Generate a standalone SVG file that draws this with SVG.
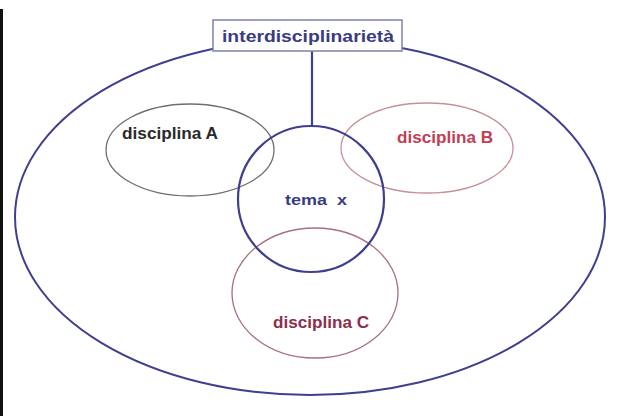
<svg xmlns="http://www.w3.org/2000/svg" width="625" height="416" viewBox="0 0 625 416">
<style>
text{font-family:"Liberation Sans",Arial,sans-serif;font-weight:bold;}
.outer{fill:none;stroke:#3e3f8e;stroke-width:2;}
.blue{fill:none;stroke:#3e3f8e;stroke-width:2.2;}
</style>
<rect width="625" height="416" fill="#ffffff"/>
<line x1="1.5" y1="9" x2="1.5" y2="416" stroke="#111" stroke-width="3"/>
<g id="universe">
<ellipse class="outer" cx="310" cy="217" rx="295" ry="178"/>
</g>
<g id="connectors">
<line x1="312" y1="51" x2="312" y2="126" stroke="#3e3f8e" stroke-width="2.2"/>
</g>
<g id="discA">
<ellipse cx="190" cy="150" rx="84" ry="46" fill="none" stroke="#6e6e6e" stroke-width="1.3"/>
<text x="170" y="139" font-size="16" fill="#2a2a2a" text-anchor="middle" textLength="96" lengthAdjust="spacingAndGlyphs">disciplina A</text>
</g>
<g id="discB">
<ellipse cx="427" cy="148" rx="86" ry="45" fill="none" stroke="#c79095" stroke-width="1.3"/>
<text x="445" y="143" font-size="16" fill="#c23d55" text-anchor="middle" textLength="96" lengthAdjust="spacingAndGlyphs">disciplina B</text>
</g>
<g id="discC">
<ellipse cx="315" cy="293" rx="83" ry="65" fill="none" stroke="#a8707e" stroke-width="1.3"/>
<text x="321" y="328" font-size="16" fill="#8c2e4e" text-anchor="middle" textLength="96" lengthAdjust="spacingAndGlyphs">disciplina C</text>
</g>
<g id="tema">
<circle class="blue" cx="311" cy="199" r="73"/>
<text x="316" y="205" font-size="15" fill="#3a3c82" text-anchor="middle" textLength="62" lengthAdjust="spacingAndGlyphs" xml:space="preserve">tema  x</text>
</g>
<g id="interdisciplinarieta">
<rect x="213" y="20" width="189" height="31" fill="#ffffff" stroke="#7d82a6" stroke-width="1.5"/>
<text x="308" y="42" font-size="17" fill="#3a3c82" text-anchor="middle" textLength="172" lengthAdjust="spacingAndGlyphs">interdisciplinarietà</text>
</g>
</svg>
